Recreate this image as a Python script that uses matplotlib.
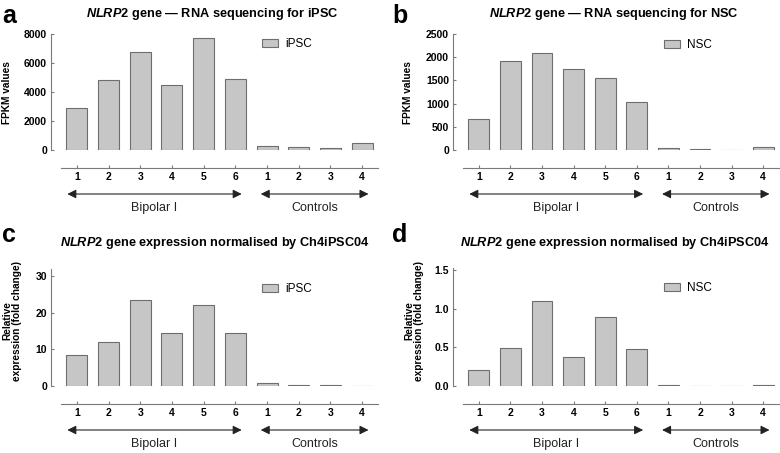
import matplotlib
matplotlib.use('Agg')
import matplotlib.pyplot as plt
import numpy as np

plt.rcParams['font.family'] = ['Liberation Sans', 'DejaVu Sans']
plt.rcParams['mathtext.fontset'] = 'custom'
plt.rcParams['mathtext.it'] = 'Liberation Sans:italic:bold'
plt.rcParams['mathtext.rm'] = 'Liberation Sans:bold'

# x tick labels: 6 bipolar I lines then 4 controls
tick_labels = ['1', '2', '3', '4', '5', '6', '1', '2', '3', '4']

ipsc_fpkm = [2930, 4800, 6780, 4450, 7720, 4930, 250, 200, 140, 500]
nsc_fpkm = [675, 1920, 2100, 1740, 1550, 1030, 50, 15, 10, 65]
ipsc_rel = [8.4, 11.9, 23.5, 14.5, 22.0, 14.4, 0.8, 0.4, 0.4, 0.0]
nsc_rel = [0.21, 0.49, 1.10, 0.38, 0.90, 0.48, 0.012, 0.0, 0.0, 0.012]

W, H = 780, 453
fig = plt.figure(figsize=(W / 100, H / 100), dpi=100)

face = '#c6c6c6'
edge = '#6e6e6e'
grey = '#7a7a7a'


def panel(left, top, width, height, vals, ylim, yticks, legend, leg_y):
    ax = fig.add_axes([left / W, (H - top - height) / H, width / W, height / H])
    x = np.arange(len(vals))
    ax.bar(x, vals, width=0.66, color=face, edgecolor=edge, linewidth=0.8,
           label=legend)
    ax.set_xlim(-0.5, 9.5)
    ax.set_ylim(*ylim)
    ax.set_yticks(yticks)
    ax.set_xticks(x)
    ax.set_xticklabels(tick_labels)
    for s in ['top', 'right']:
        ax.spines[s].set_visible(False)
    ax.spines['bottom'].set_position(('outward', 13))
    ax.spines['left'].set_position(('outward', 7))
    ax.spines['left'].set_bounds(0, ylim[1])
    for s in ['bottom', 'left']:
        ax.spines[s].set_color(grey)
        ax.spines[s].set_linewidth(0.8)
    ax.tick_params(direction='in', length=2.5, width=0.8, color=grey,
                   labelsize=7.5, pad=3)
    for lab in ax.get_xticklabels() + ax.get_yticklabels():
        lab.set_fontweight('bold')
    ax.legend(loc='center left', bbox_to_anchor=(0.635, leg_y), frameon=False,
              borderpad=0, borderaxespad=0, handlelength=1.35, handleheight=0.7,
              handletextpad=0.6, fontsize=8.5)

    # group arrows and labels below the axis
    ya = -44 / height
    yl = -58 / height
    for x0, x1, name in [(-0.3, 5.2, 'Bipolar I'), (5.8, 9.2, 'Controls')]:
        ax.annotate('', xy=(x1, ya), xytext=(x0, ya),
                    xycoords=('data', 'axes fraction'),
                    textcoords=('data', 'axes fraction'),
                    arrowprops=dict(arrowstyle='<|-|>', color='#222222',
                                    lw=0.8, mutation_scale=13,
                                    shrinkA=0, shrinkB=0),
                    annotation_clip=False)
        ax.text((x0 + x1) / 2, yl, name, transform=ax.get_xaxis_transform(),
                ha='center', va='center', fontsize=9, color='#222222')
    return ax


panel(61, 34, 317, 116, ipsc_fpkm, (0, 8000), [0, 2000, 4000, 6000, 8000],
      'iPSC', 0.91)
panel(463, 34, 316, 116, nsc_fpkm, (0, 2500), [0, 500, 1000, 1500, 2000, 2500],
      'NSC', 0.905)
panel(61, 269, 317, 117, ipsc_rel, (0, 31.9), [0, 10, 20, 30], 'iPSC', 0.83)
panel(463, 268, 316, 118, nsc_rel, (0, 1.53), [0.0, 0.5, 1.0, 1.5], 'NSC', 0.83)

# y axis labels
ylabels = [
    (7, 93, 'FPKM values'),
    (408, 93, 'FPKM values'),
    (12, 321, 'Relative\nexpression (fold change)'),
    (414, 321, 'Relative\nexpression (fold change)'),
]
for lx, ly, t in ylabels:
    fig.text(lx / W, 1 - ly / H, t, rotation=90, ha='center', va='center',
             fontsize=7.3, fontweight='bold', linespacing=1.0,
             multialignment='center')

titles = [
    (212, 14, r'$\mathit{NLRP2}$ gene — RNA sequencing for iPSC'),
    (614, 14, r'$\mathit{NLRP2}$ gene — RNA sequencing for NSC'),
    (215, 243, r'$\mathit{NLRP2}$ gene expression normalised by Ch4iPSC04'),
    (615, 243, r'$\mathit{NLRP2}$ gene expression normalised by Ch4iPSC04'),
]
for tx, ty, t in titles:
    fig.text(tx / W, 1 - ty / H, t, ha='center', va='center', fontsize=9.2,
             fontweight='bold')

for lx, ly, letter in [(2, 23, 'a'), (392, 23, 'b'), (2, 242, 'c'), (392, 242, 'd')]:
    fig.text(lx / W, 1 - ly / H, letter, ha='left', va='baseline', fontsize=18,
             fontweight='bold')

fig.savefig('out.png', dpi=100)
